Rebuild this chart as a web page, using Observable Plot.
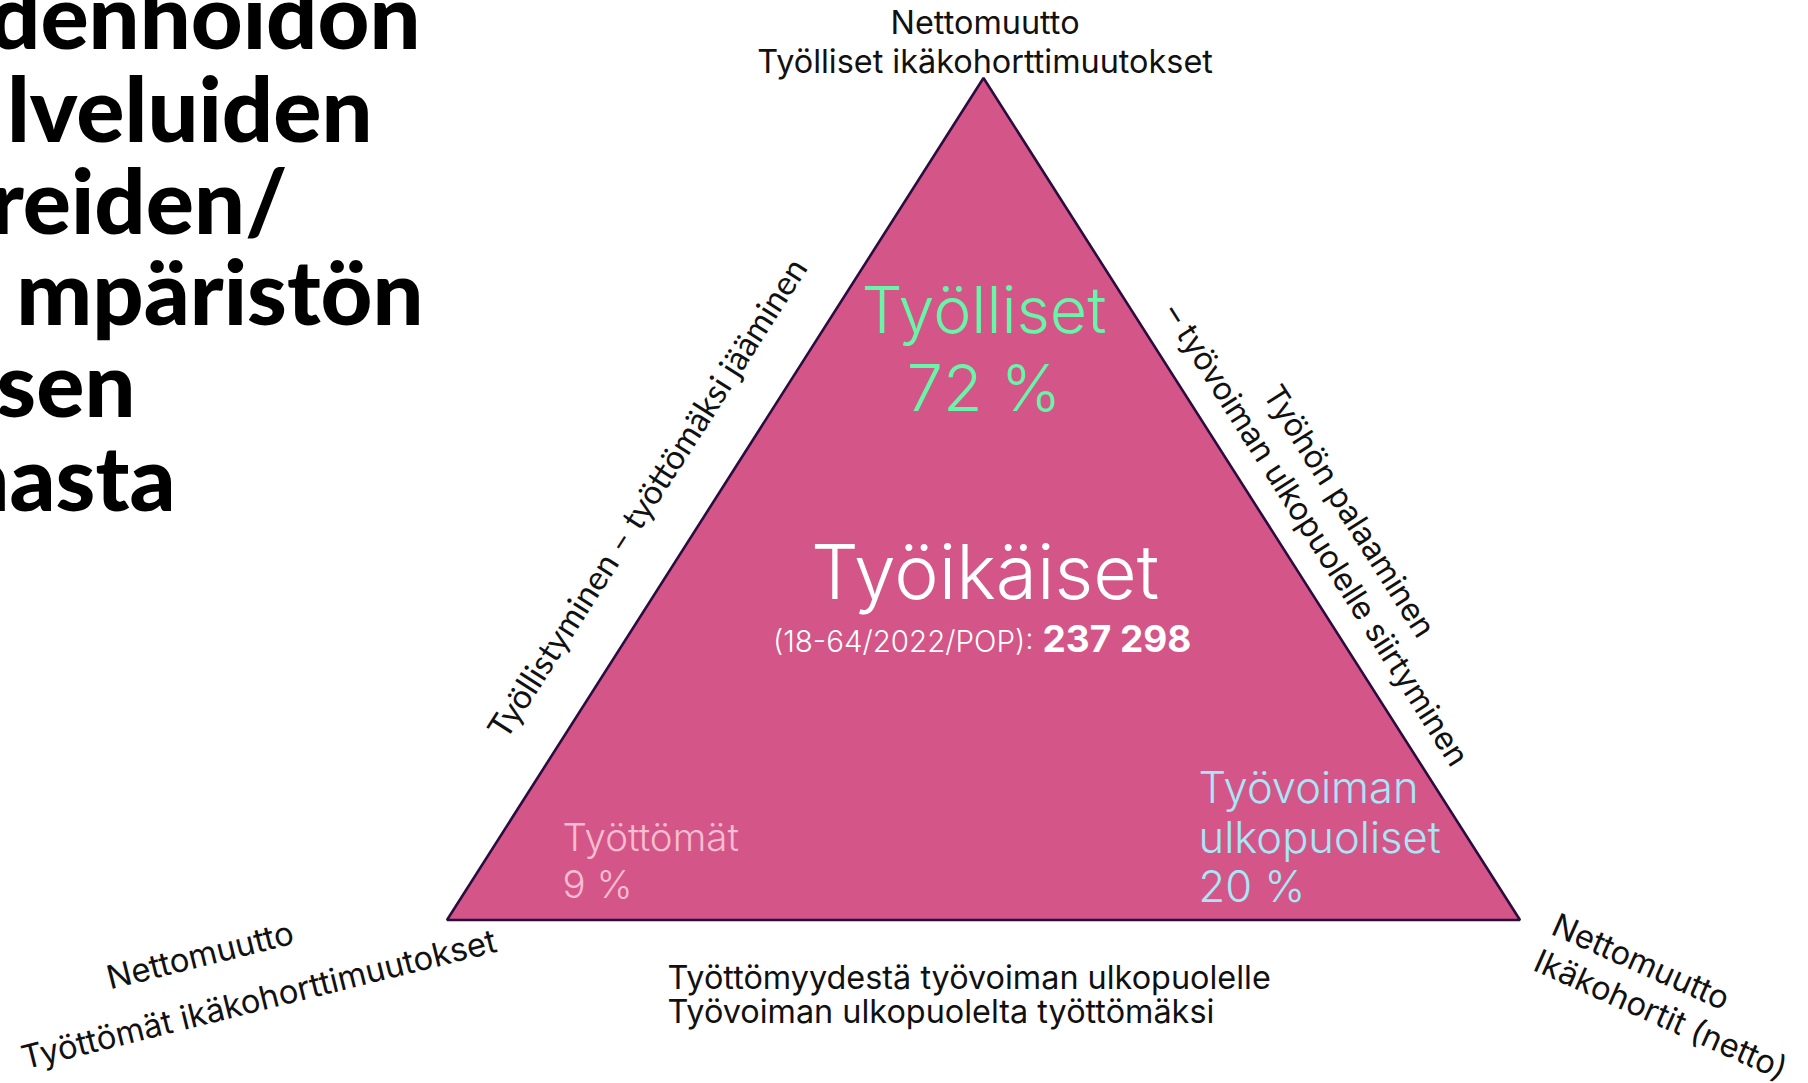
<!DOCTYPE html>
<html><head><meta charset="utf-8">
<script src="https://cdn.jsdelivr.net/npm/d3@7"></script>
<script src="https://cdn.jsdelivr.net/npm/@observablehq/plot@0.6"></script>
<style>html,body{margin:0;padding:0;background:#fff;overflow:hidden}</style>
</head><body><div id="chart"></div>
<script>
// ---- data ----
const groups = ["Työlliset", "Työttömät", "Työvoiman\nulkopuoliset"];
const shares = [72, 9, 20];
const centerTitle = "Työikäiset";
const populationLabel = "(18-64/2022/POP):";
const population = 237298;
const topCornerLines = ["Nettomuutto", "Työlliset ikäkohorttimuutokset"];
const leftCornerLines = ["Nettomuutto", "Työttömät ikäkohorttimuutokset"];
const rightCornerLines = ["Nettomuutto", "Ikäkohortit (netto)"];
const leftEdgeLines = ["Työllistyminen – työttömäksi jääminen"];
const rightEdgeLines = ["Työhön palaaminen", "– työvoiman ulkopuolelle siirtyminen"];
const baseEdgeLines = ["Työttömyydestä työvoiman ulkopuolelle", "Työvoiman ulkopuolelta työttömäksi"];
const titleFragments = ["denhoidon", "lveluiden", "reiden/", "mpäristön", "sen", "nasta"];
const corners = [{x: 0, y: 0}, {x: 0.5, y: 1}, {x: 1, y: 0}];

// ---- layout (unit-triangle coordinates) ----
const fmt = d3.formatLocale({decimal: ",", thousands: " ", grouping: [3], currency: ["", ""]}).format(",");
const pct = v => `${v} %`;
const titlePos = [
  {x: -0.0252, y: 1.0356}, {x: -0.0699, y: 0.924}, {x: -0.1491, y: 0.8159},
  {x: -0.0224, y: 0.7067}, {x: -0.2908, y: 0.5974}, {x: -0.2535, y: 0.4869}
];
const topPos = [{x: 0.501, y: 1.0534}, {x: 0.501, y: 1.0071}];
const leftCornerPos = [{x: -0.228, y: -0.0546}, {x: -0.1733, y: -0.1069}];
const rightCornerPos = [{x: 1.027, y: -0.0154}, {x: 1.0103, y: -0.0582}];
const rightEdgePos = [{x: 0.8397, y: 0.4857}, {x: 0.8089, y: 0.4572}];
const basePos = [{x: 0.205, y: -0.0808}, {x: 0.205, y: -0.1223}];

const pink = "#D45688", edge = "#2B0C3F";
const sans = "Inter, 'Open Sans', sans-serif";

const chart = Plot.plot({
  width: 1808, height: 1083,
  marginTop: 0, marginRight: 0, marginBottom: 0, marginLeft: 0,
  x: {domain: [-0.41659, 1.26841], axis: null},
  y: {domain: [-0.19359, 1.09264], axis: null},
  style: {background: "#ffffff", fontFamily: sans},
  marks: [
    Plot.area(corners, {x1: "x", y1: 0, y2: "y", fill: pink, stroke: edge, strokeWidth: 2.6, strokeLinejoin: "miter", curve: "linear"}),
    // title fragments
    Plot.text(titleFragments, {x: (d, i) => titlePos[i].x, y: (d, i) => titlePos[i].y, text: d => d,
      textAnchor: "end", lineAnchor: "bottom", fontSize: 90, fontWeight: 900, fontFamily: "Lato, sans-serif", fill: "#000"}),
    // top corner
    Plot.text(topCornerLines, {x: (d, i) => topPos[i].x, y: (d, i) => topPos[i].y, text: d => d,
      textAnchor: "middle", lineAnchor: "bottom", fontSize: 32.4, fontFamily: sans, fill: "#111"}),
    // left corner (rotated)
    Plot.text(leftCornerLines, {x: (d, i) => leftCornerPos[i].x, y: (d, i) => leftCornerPos[i].y, text: d => d,
      textAnchor: "middle", lineAnchor: "bottom", rotate: -14, fontSize: 32.8, fontFamily: sans, fill: "#111"}),
    // right corner (rotated)
    Plot.text(rightCornerLines, {x: (d, i) => rightCornerPos[i].x, y: (d, i) => rightCornerPos[i].y, text: d => d,
      textAnchor: "start", lineAnchor: "bottom", rotate: 24, fontSize: 32.6, fontFamily: sans, fill: "#111"}),
    // left edge
    Plot.text(leftEdgeLines, {x: 0.1873, y: 0.5012, text: d => d,
      textAnchor: "middle", lineAnchor: "middle", rotate: -57.4, fontSize: 33.5, fontFamily: "Lato, sans-serif", fill: "#111"}),
    // right edge
    Plot.text(rightEdgeLines, {x: (d, i) => rightEdgePos[i].x, y: (d, i) => rightEdgePos[i].y, text: d => d,
      textAnchor: "middle", lineAnchor: "middle", rotate: 57.6, fontSize: 31.6, fontFamily: sans, fill: "#111"}),
    // base edge
    Plot.text(baseEdgeLines, {x: (d, i) => basePos[i].x, y: (d, i) => basePos[i].y, text: d => d,
      textAnchor: "start", lineAnchor: "bottom", fontSize: 32.4, fontFamily: sans, fill: "#111"}),
    // groups
    Plot.text([`${groups[0]}\n${pct(shares[0])}`], {x: 0.5, y: 0.6057, text: d => d,
      textAnchor: "middle", lineAnchor: "bottom", lineHeight: 1.2, fontSize: 64.5, fontWeight: 300, fontFamily: sans, fill: "#67F5A8"}),
    Plot.text([`${groups[1]}\n${pct(shares[1])}`], {x: 0.1072, y: 0.0273, text: d => d,
      textAnchor: "start", lineAnchor: "bottom", lineHeight: 1.2, fontSize: 38.5, fontWeight: 300, fontFamily: sans, fill: "#F7BDD0"}),
    Plot.text([`${groups[2]}\n${pct(shares[2])}`], {x: 0.7, y: 0.0214, text: d => d,
      textAnchor: "start", lineAnchor: "bottom", lineHeight: 1.14, fontSize: 43.5, fontWeight: 300, fontFamily: sans, fill: "#A8E6F8"}),
    // center
    Plot.text([centerTitle], {x: 0.501, y: 0.3824, text: d => d,
      textAnchor: "middle", lineAnchor: "bottom", fontSize: 75, fontWeight: 300, fontFamily: sans, fill: "#fff"}),
    Plot.text([populationLabel], {x: 0.5462, y: 0.3183, text: d => d,
      textAnchor: "end", lineAnchor: "bottom", fontSize: 29.5, fontWeight: 300, fontFamily: sans, fill: "#fff"}),
    Plot.text([population], {x: 0.5545, y: 0.3183, text: d => fmt(d),
      textAnchor: "start", lineAnchor: "bottom", fontSize: 37, fontWeight: 700, fontFamily: sans, fill: "#fff"})
  ]
});
document.getElementById("chart").appendChild(chart);
</script>
</body></html>
